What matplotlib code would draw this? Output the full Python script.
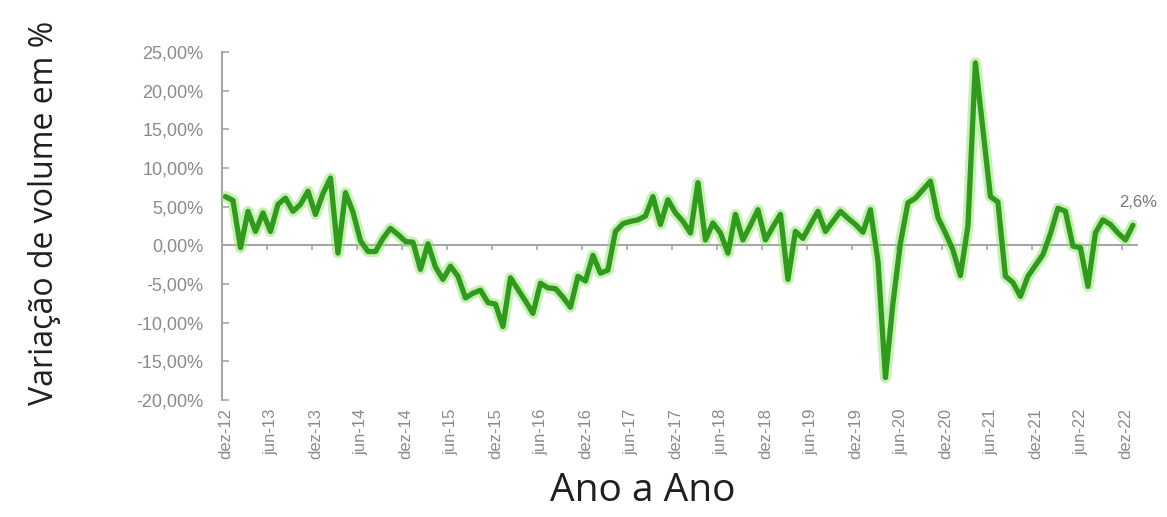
import matplotlib
matplotlib.use("Agg")
import matplotlib.pyplot as plt
import matplotlib.patheffects as pe
import numpy as np

# Monthly year-over-year volume change (%), dez-12 .. jan-23
variacao = [
    6.3, 5.8, -0.3, 4.4, 1.8, 4.2, 1.8, 5.3, 6.1, 4.4, 5.3, 7.0,
    4.0, 6.7, 8.7, -1.0, 6.8, 4.3, 0.6, -0.8, -0.8, 0.9, 2.2, 1.4,
    0.5, 0.4, -3.1, 0.2, -2.8, -4.4, -2.7, -4.0, -6.8, -6.2, -5.8, -7.4,
    -7.6, -10.5, -4.2, -5.7, -7.2, -8.8, -4.9, -5.5, -5.6, -6.7, -8.0, -4.0,
    -4.6, -1.3, -3.6, -3.2, 1.8, 2.8, 3.1, 3.3, 3.8, 6.3, 2.7, 5.9,
    4.2, 3.1, 1.6, 8.1, 0.7, 2.9, 1.6, -1.0, 4.0, 0.7, 2.6, 4.6,
    0.7, 2.4, 4.0, -4.4, 1.8, 0.9, 2.7, 4.4, 1.8, 3.1, 4.4, 3.5,
    2.7, 1.7, 4.6, -2.0, -17.1, -7.5, 0.3, 5.5, 6.1, 7.2, 8.3, 3.6,
    1.6, -0.6, -3.9, 2.5, 23.6, 15.0, 6.3, 5.6, -4.0, -4.8, -6.6, -4.0,
    -2.6, -1.2, 1.5, 4.8, 4.4, -0.1, -0.3, -5.3, 1.6, 3.3, 2.7, 1.6,
    0.7, 2.6,
]

rotulos_x = [
    "dez-12", "jun-13", "dez-13", "jun-14", "dez-14", "jun-15", "dez-15",
    "jun-16", "dez-16", "jun-17", "dez-17", "jun-18", "dez-18", "jun-19",
    "dez-19", "jun-20", "dez-20", "jun-21", "dez-21", "jun-22", "dez-22",
]
passo_rotulo = 6  # one label every 6 months

ticks_y = [-20, -15, -10, -5, 0, 5, 10, 15, 20, 25]

CINZA_EIXO = "#a6a6a6"
CINZA_TEXTO = "#8a8a8a"
VERDE = "#2f9a1c"
VERDE_BRILHO = "#8ee36a"

fig = plt.figure(figsize=(11.67, 5.17), dpi=100)
ax = fig.add_axes([0.19, 0.2263, 0.784, 0.6731])

n = len(variacao)
x = np.arange(n)

ax.plot(
    x, variacao, color=VERDE, lw=3.8, solid_joinstyle="round",
    solid_capstyle="round", zorder=3,
    path_effects=[pe.Stroke(linewidth=8, foreground=VERDE_BRILHO, alpha=0.5),
                  pe.Normal()],
)

ax.set_xlim(-0.5, n - 0.5)
ax.set_ylim(min(ticks_y), max(ticks_y))

# y axis
ax.set_yticks(ticks_y)
ax.set_yticklabels([f"{v:.2f}%".replace(".", ",") for v in ticks_y],
                   family="Liberation Sans")
ax.tick_params(axis="y", direction="in", length=5, width=1.2, color=CINZA_EIXO,
               labelcolor=CINZA_TEXTO, labelsize=13, pad=13)

# category axis drawn on the zero line with tick marks at category boundaries
ax.spines["bottom"].set_position(("data", 0))
ax.spines["bottom"].set_color(CINZA_EIXO)
ax.spines["bottom"].set_linewidth(1.5)
ax.spines["left"].set_color(CINZA_EIXO)
ax.spines["left"].set_linewidth(1.5)
ax.spines["top"].set_visible(False)
ax.spines["right"].set_visible(False)

ax.set_xticks(np.arange(-0.5, n, passo_rotulo))
ax.tick_params(axis="x", direction="out", length=3.5, width=1.2,
               color=CINZA_EIXO, labelbottom=False)

# month labels along the bottom of the plot area
sec = ax.secondary_xaxis(0)
sec.set_xticks(np.arange(0, len(rotulos_x) * passo_rotulo, passo_rotulo))
sec.set_xticklabels(rotulos_x, rotation=90, fontsize=12,
                    color=CINZA_TEXTO, family="Liberation Sans")
sec.tick_params(axis="x", length=0, pad=6)
sec.spines["bottom"].set_visible(False)

# value label on the last point
ultimo = variacao[-1]
ax.annotate(f"{ultimo:.1f}%".replace(".", ","), xy=(n - 1, ultimo),
            xytext=(4, 11), textcoords="offset points", ha="center",
            va="bottom", fontsize=12, color="#7a7a7a",
            family="Liberation Sans")

fig.text(45 / 1167, 1 - 213 / 517, "Variação de volume em %", rotation=90,
         ha="center", va="center", fontsize=23, color="#1f1f1f",
         family="Open Sans")
fig.text(643 / 1167, 1 - 491 / 517, "Ano a Ano", ha="center", va="center",
         fontsize=28, color="#1f1f1f", family="Open Sans")

fig.savefig("out.png", dpi=100, facecolor="white")
